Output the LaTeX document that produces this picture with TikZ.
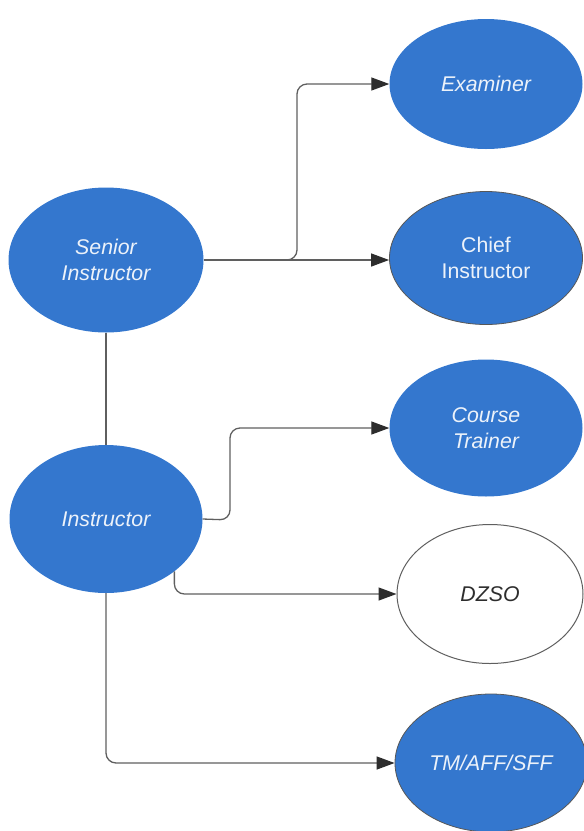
\documentclass[tikz,border=0pt]{standalone}
\usepackage{fontspec}
\setmainfont{Liberation Sans}
\usetikzlibrary{shapes.geometric,arrows.meta}
\definecolor{nodeblue}{RGB}{52,119,206}
\definecolor{lightTxt}{RGB}{236,242,250}
\definecolor{lineGray}{RGB}{95,95,95}
\definecolor{darkTxt}{RGB}{45,45,45}
\tikzset{
  bub/.style={ellipse, inner sep=0pt, fill=nodeblue, text=lightTxt, align=center,
    font=\fontsize{21.3}{26.5}\selectfont\itshape},
  outl/.style={draw=darkTxt!80, line width=0.8pt},
  wbub/.style={ellipse, inner sep=0pt, fill=white, draw=lineGray, line width=1pt, text=darkTxt,
    align=center, font=\fontsize{21.3}{26.5}\selectfont\itshape},
  conn/.style={draw=lineGray, line width=1.3pt},
  arr/.style={conn, -{Triangle[length=18pt,width=13pt,color=darkTxt]}, rounded corners=10pt},
}
\begin{document}
\begin{tikzpicture}[x=1pt,y=-1pt]
\useasboundingbox (0,0) rectangle (584,831);
\begin{scope}
\clip (0,0) rectangle (584,831);
\node[bub, minimum width=193pt, minimum height=130pt] (exam) at (486,84) {Examiner};
\node[bub, outl, minimum width=193pt, minimum height=133pt, font=\fontsize{21.3}{26.5}\selectfont] (chief) at (486,258) {Chief\\Instructor};
\node[bub, minimum width=195pt, minimum height=145pt] (sen) at (106,260) {Senior\\Instructor};
\node[bub, minimum width=193pt, minimum height=137pt] (course) at (486,428) {Course\\Trainer};
\node[bub, minimum width=193pt, minimum height=148pt] (ins) at (106,519) {Instructor};
\node[wbub, minimum width=186pt, minimum height=139pt] (dzso) at (490,594) {DZSO};
\node[bub, outl, minimum width=192pt, minimum height=138pt] (tm) at (491,763) {TM/AFF/SFF};
\end{scope}
\coordinate (b1) at (268,260);
\coordinate (c1) at (230,520);
\draw[arr] (sen.east |- 0,260) -- (chief.west |- 0,260);
\draw[arr] (b1) -- (297,260) |- (exam.west);
\draw[conn] (sen.south) -- (ins.north);
\draw[arr] (ins.east) -- (c1) |- (course.west);
\draw[arr] (ins.south east) |- (dzso.west);
\draw[arr] (ins.south) |- (tm.west);
\end{tikzpicture}
\end{document}
